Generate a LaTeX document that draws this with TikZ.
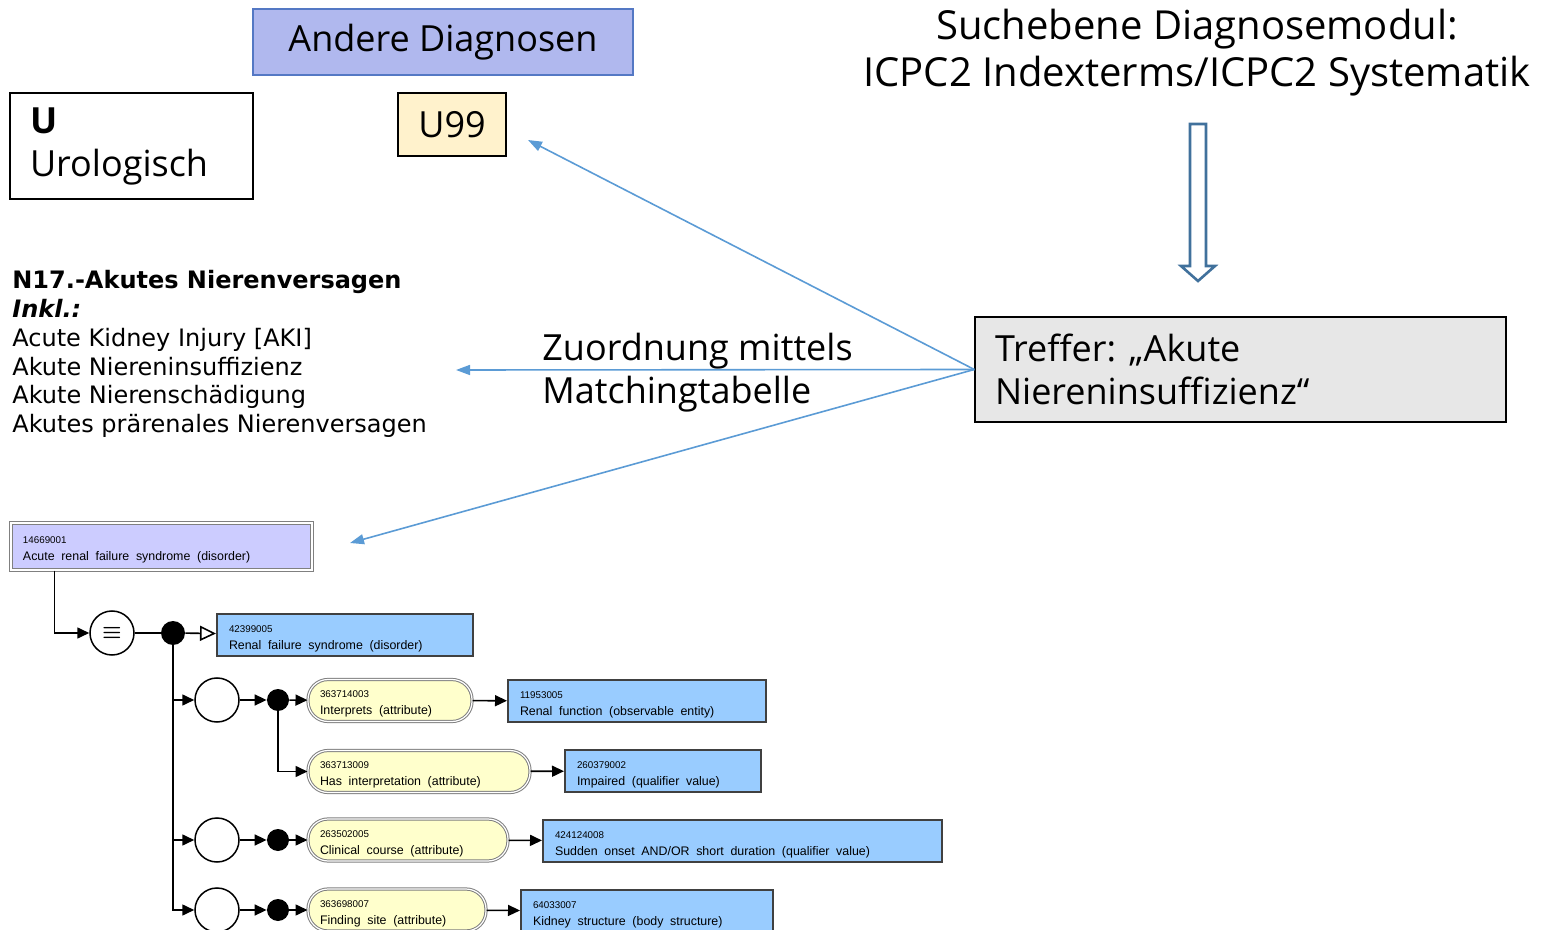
\documentclass[tikz,border=0pt]{standalone}
\usepackage{fontspec}
\setmainfont{Open Sans}
\newfontfamily\verdfont{DejaVu Sans}
\newfontfamily\sctfont{Liberation Sans}
\usepackage{tikz}
\usepackage{xcolor}
\usetikzlibrary{shapes, arrows.meta, calc, positioning}
\definecolor{icpclila}{RGB}{176,184,238}
\definecolor{icpcrand}{RGB}{84,120,196}
\definecolor{uyellow}{RGB}{255,242,204}
\definecolor{treffergrau}{RGB}{231,231,231}
\definecolor{pfeilblau}{RGB}{91,155,213}
\definecolor{hohlblau}{RGB}{65,113,156}
\definecolor{sctdefined}{RGB}{204,204,255}
\definecolor{sctconcept}{RGB}{153,204,255}
\definecolor{sctattrib}{RGB}{255,255,204}

\newcommand{\sct}[2]{\rule{0pt}{7pt}{\fontsize{4.9}{5.6}\selectfont #1}\\[-3.6pt]{\fontsize{6.2}{7.4}\selectfont #2}}

\begin{document}
\begin{tikzpicture}[x=0.5pt, y=-0.5pt,
    mapping/.style={draw=pfeilblau, line width=0.8pt, -{Triangle[length=7pt, width=5pt]}},
    conn/.style={line width=0.8pt, -{Triangle[length=6pt, width=5.5pt]}},
    defbox/.style={rectangle, draw=gray, double=white, double distance=0.6pt, line width=0.5pt,
        fill=sctdefined, align=left, inner xsep=6pt, inner ysep=0pt, font=\sctfont, text width=#1},
    conbox/.style={rectangle, draw=black!75, line width=1pt, fill=sctconcept, align=left,
        inner xsep=6pt, inner ysep=0pt, minimum height=21pt, font=\sctfont, text width=#1},
    attbox/.style={rectangle, rounded corners=10pt, draw=gray, double=white, double distance=0.6pt,
        line width=0.5pt, fill=sctattrib, align=left, inner xsep=6pt, inner ysep=0pt,
        minimum height=21pt, font=\sctfont, text width=#1},
    ring/.style={circle, draw, line width=0.75pt, fill=white, minimum size=22pt, inner sep=0pt},
    knot/.style={circle, fill=black, minimum size=#1, inner sep=0pt}]

    \clip (0, 0) rectangle (1548, 930);

    % ICPC2 Seite
    \node[rectangle, draw=icpcrand, line width=1pt, fill=icpclila, minimum width=190pt,
        minimum height=33pt, font=\fontsize{18}{21}\selectfont] (andere) at (443, 42) {Andere Diagnosen};
    \node[rectangle, draw, line width=0.7pt, minimum width=121.5pt, minimum height=53pt,
        text width=101.5pt, inner xsep=10pt, align=left, font=\fontsize{18}{21.5}\selectfont]
        (urol) at (131.5, 146) {\textbf{U}\\Urologisch};
    \node[rectangle, draw, line width=0.7pt, fill=uyellow, minimum width=54pt, minimum height=31.5pt,
        font=\fontsize{18}{21}\selectfont] (u99) at (452, 124.5) {U99};

    \node[align=center, font=\fontsize{20}{23.5}\selectfont] (suche) at (1197, 53)
        {Suchebene Diagnosemodul:\\ICPC2 Indexterms/ICPC2 Systematik};
    \draw[draw=hohlblau, line width=1.3pt, fill=white]
        (1190, 124) -- (1206, 124) -- (1206, 266) -- (1215, 266) -- (1198, 281)
        -- (1181, 266) -- (1190, 266) -- cycle;

    \node[rectangle, draw, line width=0.7pt, fill=treffergrau, minimum width=265.5pt,
        minimum height=52.5pt, text width=245.5pt, inner xsep=10pt, align=left,
        font=\fontsize{18}{21.5}\selectfont] (treffer) at (1240.5, 369.5)
        {Treffer:\hspace{-2.5pt} „Akute\\Niereninsuffizienz“};

    \node[anchor=north west, align=left, inner sep=0pt, font=\verdfont\fontsize{12}{14.4}\selectfont]
        (icd) at (12, 270) {\textbf{N17.-Akutes Nierenversagen}\\\textbf{\textit{Inkl.:}}\\
        Acute Kidney Injury [AKI]\\Akute Niereninsuffizienz\\Akute Nierenschädigung\\
        Akutes prärenales Nierenversagen};

    \node[anchor=west, align=left, inner sep=0pt, font=\fontsize{18}{21.5}\selectfont]
        (zuord) at (542, 373) {Zuordnung mittels\\Matchingtabelle};

    \coordinate (zielu) at (528, 140);
    \coordinate (zielicd) at (456, 370);
    \coordinate (zielsct) at (350, 543);
    \draw[mapping] (treffer.west) -- (zielu);
    \draw[mapping] (treffer.west) -- (zielicd);
    \draw[mapping] (treffer.west) -- (zielsct);

    % SNOMED CT Konzept
    \node[defbox=138.5pt, minimum height=23.5pt] (c14669001) at (161.5, 546.5)
        {\sct{14669001}{Acute renal failure syndrome (disorder)}};
    \node[ring, font=\fontsize{11}{11}\selectfont\boldmath] (eq) at (112, 633) {$\equiv$};
    \node[knot=12pt] (k0) at (173, 633) {};
    \node[conbox=116pt] (c42399005) at (345, 635) {\sct{42399005}{Renal failure syndrome (disorder)}};

    \node[ring] (r1) at (217, 700) {};
    \node[knot=11pt] (k1) at (278, 700) {};
    \node[attbox=70pt] (a363714003) at (390, 700.5) {\sct{363714003}{Interprets (attribute)}};
    \node[conbox=117pt] (c11953005) at (637, 701) {\sct{11953005}{Renal function (observable entity)}};
    \node[attbox=99pt] (a363713009) at (419, 771.5) {\sct{363713009}{Has interpretation (attribute)}};
    \node[conbox=86pt] (c260379002) at (663, 771) {\sct{260379002}{Impaired (qualifier value)}};

    \node[ring] (r2) at (217, 840) {};
    \node[knot=11pt] (k2) at (278, 840) {};
    \node[attbox=88pt] (a263502005) at (408, 840) {\sct{263502005}{Clinical course (attribute)}};
    \node[conbox=187.5pt] (c424124008) at (742.5, 841)
        {\sct{424124008}{Sudden onset AND/OR short duration (qualifier value)}};

    \node[ring] (r3) at (217, 910) {};
    \node[knot=11pt] (k3) at (278, 910) {};
    \node[attbox=77pt] (a363698007) at (397, 910) {\sct{363698007}{Finding site (attribute)}};
    \node[conbox=114pt] (c64033007) at (647, 911) {\sct{64033007}{Kidney structure (body structure)}};

    \draw[conn] ([xshift=22pt]c14669001.south west) |- (eq);
    \draw[line width=0.8pt] (eq) -- (k0);
    \draw[line width=0.8pt, -{Triangle[open, length=8pt, width=7.5pt]}] (k0) -- (c42399005);
    \draw[conn] (k0) |- (r1);
    \draw[conn] (k0) |- (r2);
    \draw[conn] (k0) |- (r3);
    \foreach \r/\k/\a/\c in {r1/k1/a363714003/c11953005, r2/k2/a263502005/c424124008,
        r3/k3/a363698007/c64033007} {
        \draw[conn] (\r) -- (\k);
        \draw[conn] (\k) -- (\a);
        \draw[conn] (\a) -- (\c);
    }
    \draw[conn] (k1) |- (a363713009);
    \draw[conn] (a363713009) -- (c260379002);

\end{tikzpicture}
\end{document}
